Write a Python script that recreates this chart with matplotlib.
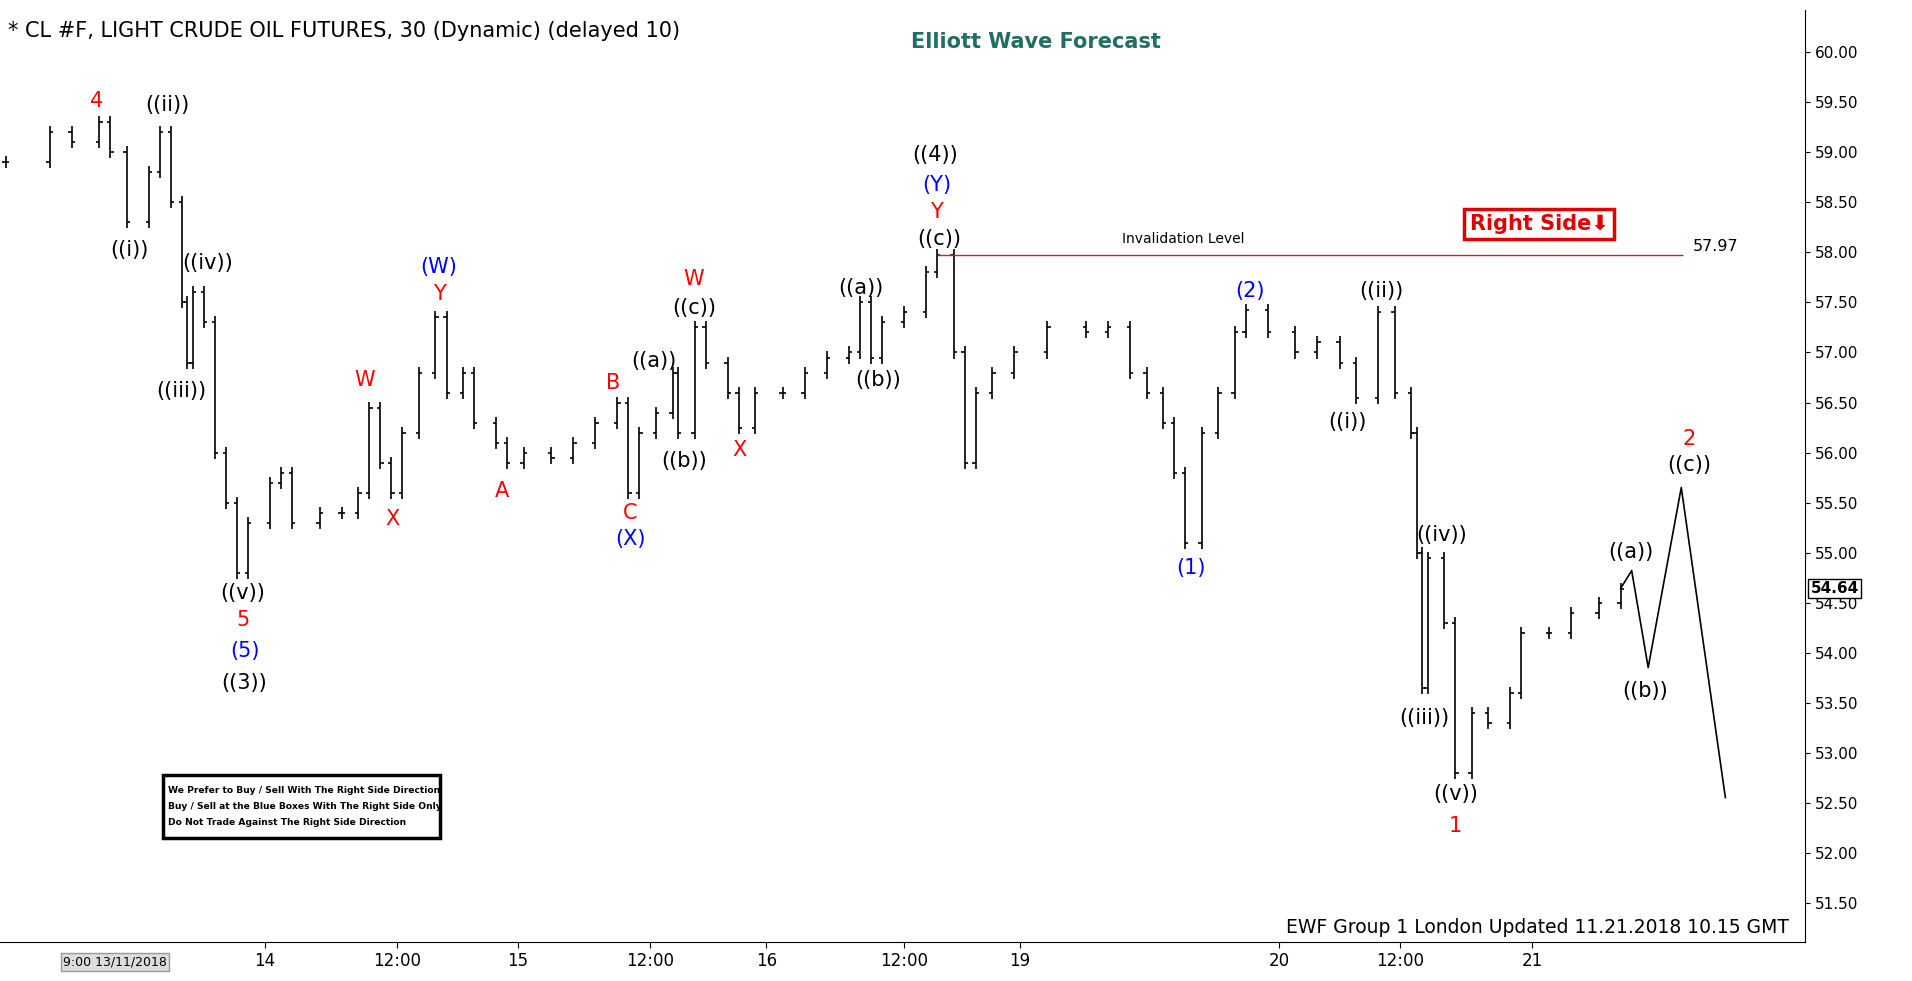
import numpy as np
import matplotlib
matplotlib.use("Agg")
import matplotlib.pyplot as plt
from matplotlib.patches import Rectangle

# bar number (30-min bars) and close price
bars = [1, 9, 13, 18, 20, 23, 27, 29, 31, 33, 34, 35, 37, 39, 41, 43, 45, 49, 51, 53,
        58, 62, 65, 67, 69, 71, 73, 76, 79, 81, 84, 86, 90, 92, 95, 100, 104, 108, 112, 114,
        116, 119, 122, 123, 126, 128, 132, 134, 137, 142, 146, 150, 154, 156, 158, 160, 164, 168, 170, 173,
        175, 177, 180, 184, 190, 197, 201, 205, 208, 211, 213, 215, 218, 221, 224, 226, 230, 235, 239, 243,
        246, 250, 253, 256, 257, 258, 259, 262, 264, 267, 270, 274, 276, 281, 285, 290, 294]
closes = [58.9, 59.2, 59.1, 59.3, 59.0, 58.3, 58.8, 59.2, 58.5, 57.5, 56.9, 57.6, 57.3, 56.0, 55.5, 54.8, 55.3, 55.7, 55.8, 55.3,
          55.4, 55.4, 55.6, 56.45, 55.9, 55.6, 56.2, 56.8, 57.35, 56.6, 56.8, 56.3, 56.1, 55.9, 56.0, 55.95, 56.1, 56.3, 56.5, 55.6,
          56.2, 56.4, 56.8, 56.2, 57.25, 56.9, 56.6, 56.25, 56.6, 56.6, 56.8, 56.95, 57.0, 57.5, 56.95, 57.3, 57.4, 57.8, 57.97, 57.0,
          55.9, 56.6, 56.8, 57.0, 57.25, 57.2, 57.25, 56.8, 56.6, 56.3, 55.8, 55.1, 56.2, 56.6, 57.2, 57.42, 57.2, 57.0, 57.1, 56.9,
          56.55, 57.4, 56.6, 56.2, 55.0, 53.65, 54.95, 54.3, 52.8, 53.4, 53.3, 53.6, 54.2, 54.2, 54.4, 54.5, 54.64]

# projected path
proj_bars = [294, 296, 299, 305, 313]
proj_vals = [54.64, 54.82, 53.85, 55.65, 52.55]

tick_pos = [48, 72, 94, 118, 139, 164, 185, 232, 254, 278]
tick_labels = ["14", "12:00", "15", "12:00", "16", "12:00", "19", "20", "12:00", "21"]

labels = [
    (79, 83, "4", "red"), (137, 86, "((ii))", "k"), (106, 205, "((i))", "k"),
    (170, 216, "((iv))", "k"), (149, 321, "((iii))", "k"), (199, 487, "((v))", "k"),
    (199, 509, "5", "red"), (201, 534, "(5)", "blue"), (200, 561, "((3))", "k"),
    (360, 219, "(W)", "blue"), (360, 241, "Y", "red"), (299, 312, "W", "red"),
    (322, 426, "X", "red"), (412, 403, "A", "red"), (503, 314, "B", "red"),
    (517, 421, "C", "red"), (517, 442, "(X)", "blue"), (569, 229, "W", "red"),
    (569, 253, "((c))", "k"), (536, 296, "((a))", "k"), (561, 378, "((b))", "k"),
    (606, 369, "X", "red"), (706, 236, "((a))", "k"), (720, 312, "((b))", "k"),
    (767, 127, "((4))", "k"), (768, 152, "(Y)", "blue"), (768, 174, "Y", "red"),
    (770, 196, "((c))", "k"), (977, 466, "(1)", "blue"), (1025, 239, "(2)", "blue"),
    (1133, 239, "((ii))", "k"), (1105, 346, "((i))", "k"), (1182, 439, "((iv))", "k"),
    (1168, 589, "((iii))", "k"), (1194, 652, "((v))", "k"), (1193, 678, "1", "red"),
    (1337, 453, "((a))", "k"), (1349, 567, "((b))", "k"), (1385, 360, "2", "red"),
    (1385, 382, "((c))", "k"),
]


def px(x):
    return x / 4.52


def py(y):
    return 60 - (y - 43) / 82.1


fig = plt.figure(figsize=(19.12, 9.81), dpi=100)
ax = fig.add_axes([0.0, 0.04, 0.944, 0.95])
ax.set_xlim(0, px(1480))
ax.set_ylim(py(773), py(8))

# OHLC-ish bars
opens = [closes[0]] + closes[:-1]
for b, o, c in zip(bars, opens, closes):
    hi = max(o, c) + 0.06
    lo = min(o, c) - 0.06
    ax.vlines(b, lo, hi, color="black", lw=1.2)
    ax.hlines(o, b - 0.6, b, color="black", lw=1.2)
    ax.hlines(c, b, b + 0.6, color="black", lw=1.2)

ax.plot(proj_bars, proj_vals, color="black", lw=1.2)

# invalidation level
ax.hlines(57.97, 170, px(1380), color="#d02020", lw=1)
ax.text(px(970), py(196), "Invalidation Level", fontsize=10, ha="center", va="center")
ax.text(px(1407), py(202), "57.97", fontsize=11.5, ha="center", va="center")

for x, y, t, c in labels:
    ax.text(px(x), py(y), t, color=c, fontsize=15, ha="center", va="center")

ax.text(px(1262), py(184), "Right Side\u2b07", color="#e00000", fontsize=15, fontweight="bold",
        ha="center", va="center",
        bbox=dict(boxstyle="square,pad=0.25", fc="white", ec="#e00000", lw=2.5))

# axes styling
ax.yaxis.tick_right()
ax.set_yticks(np.arange(51.5, 60.01, 0.5))
ax.set_yticklabels([f"{v:.2f}" for v in np.arange(51.5, 60.01, 0.5)], fontsize=11)
ax.set_xticks(tick_pos)
ax.set_xticklabels(tick_labels, fontsize=12)
ax.tick_params(axis="x", length=4)
for s in ["top", "left"]:
    ax.spines[s].set_visible(False)

ax.text(1.003, 54.64, "54.64", transform=ax.get_yaxis_transform(), fontsize=11, fontweight="bold",
        color="black", va="center", ha="left",
        bbox=dict(boxstyle="square,pad=0.15", fc="white", ec="black"))

# texts
fig.text(0.004, 0.968, "* CL #F, LIGHT CRUDE OIL FUTURES, 30 (Dynamic) (delayed 10)", fontsize=15, va="center")
fig.text(0.542, 0.957, "Elliott Wave Forecast", fontsize=15, fontweight="bold", color="#1f6f64",
         ha="center", va="center")
fig.text(0.804, 0.055, "EWF Group 1 London Updated 11.21.2018 10.15 GMT", fontsize=13.5,
         ha="center", va="center")
fig.text(0.033, 0.019, "9:00 13/11/2018", fontsize=9, va="center",
         bbox=dict(boxstyle="square,pad=0.2", fc="#dddddd", ec="#999999"))

box = Rectangle((0.085, 0.146), 0.145, 0.064, transform=fig.transFigure, fill=False, ec="black", lw=2.5)
fig.add_artist(box)
for i, t in enumerate(["We Prefer to Buy / Sell With The Right Side Direction",
                       "Buy / Sell at the Blue Boxes With The Right Side Only",
                       "Do Not Trade Against The Right Side Direction"]):
    fig.text(0.088, 0.194 - i * 0.016, t, fontsize=6.6, fontweight="bold", va="center")

fig.savefig("out.png", dpi=100)
